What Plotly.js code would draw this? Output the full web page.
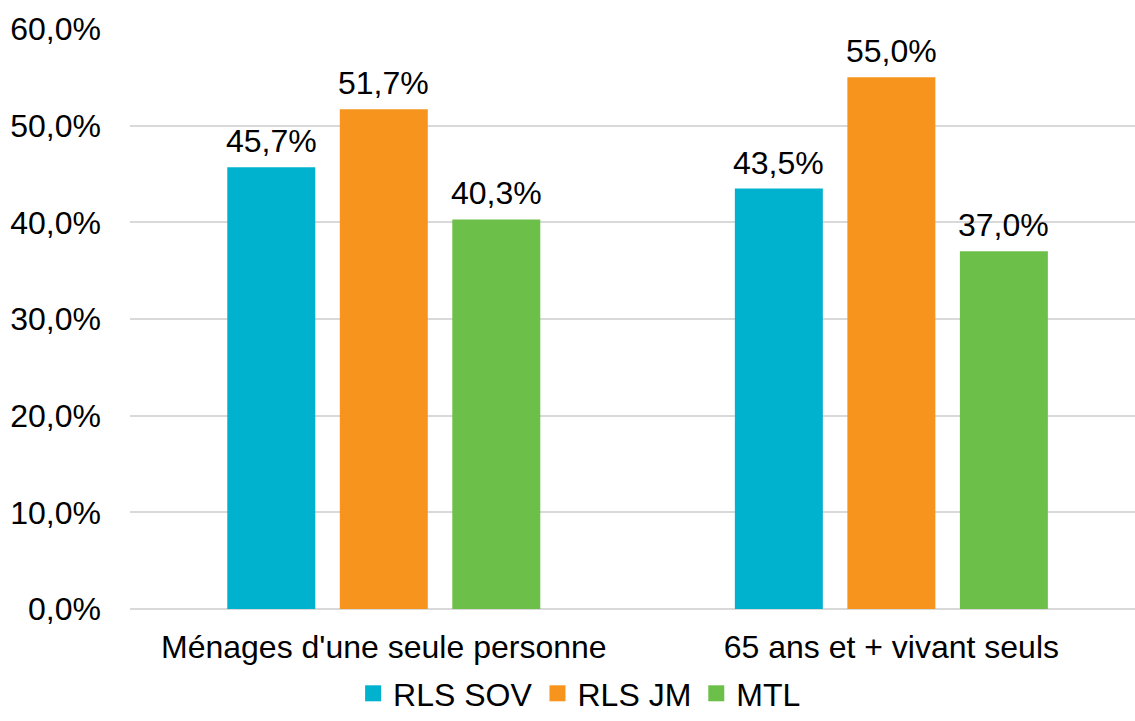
<!DOCTYPE html>
<html>
<head>
<meta charset="utf-8">
<script src="https://cdn.plot.ly/plotly-3.0.1.min.js"></script>
<style>
  html, body { margin: 0; padding: 0; background: #ffffff; }
  #chart { width: 1135px; height: 721px; }
</style>
</head>
<body>
<div id="chart"></div>
<script>
// Household categories and the share (%) for each territory
const categories = ["Ménages d'une seule personne", "65 ans et + vivant seuls"];
const seriesNames = ["RLS SOV", "RLS JM", "MTL"];
const rlsSov = [45.7, 43.5];
const rlsJm = [51.7, 55.0];
const mtl = [40.3, 37.0];
const seriesColors = ["#00B2CD", "#F7941D", "#6CC04A"];

const seriesValues = [rlsSov, rlsJm, mtl];
const FONT = "Liberation Sans, Arial, sans-serif";
const FS = 32;
const BARGAP = 0.335;
const slot = (1 - BARGAP) / seriesValues.length;

const fmt = v => v.toFixed(1).replace(".", ",") + "%";

// Bars (legend handled by square-marker entries below)
const traces = seriesValues.map((vals, j) => ({
  type: "bar",
  name: seriesNames[j],
  legendgroup: seriesNames[j],
  showlegend: false,
  x: categories,
  y: vals,
  marker: { color: seriesColors[j], line: { width: 0 } },
  hoverinfo: "skip"
}));

// Square legend keys, one per series
seriesNames.forEach((name, j) => {
  traces.push({
    type: "scatter",
    mode: "markers",
    name: name,
    legendgroup: name,
    x: [null],
    y: [null],
    marker: { symbol: "square", size: 17, color: seriesColors[j] },
    hoverinfo: "skip"
  });
});

// Value labels above each bar, placed on the bar's own slot in the group
const annotations = [];
seriesValues.forEach((vals, j) => {
  vals.forEach((v, i) => {
    annotations.push({
      x: i + (j - (seriesValues.length - 1) / 2) * slot,
      y: v,
      xref: "x",
      yref: "y",
      text: fmt(v),
      showarrow: false,
      yanchor: "bottom",
      yshift: 6,
      font: { family: FONT, size: FS, color: "#000000" }
    });
  });
});

const layout = {
  width: 1135,
  height: 721,
  margin: { l: 130, r: 0, t: 29, b: 112 },
  paper_bgcolor: "#ffffff",
  plot_bgcolor: "#ffffff",
  separators: ", ",
  font: { family: FONT, size: FS, color: "#000000" },
  barmode: "group",
  bargap: BARGAP,
  bargroupgap: 0.218,
  showlegend: true,
  legend: {
    orientation: "h",
    x: 0.222,
    xref: "paper",
    xanchor: "left",
    y: 0,
    yref: "container",
    yanchor: "bottom",
    itemsizing: "trace",
    font: { family: FONT, size: FS, color: "#000000" },
    itemclick: false,
    traceorder: "normal"
  },
  xaxis: {
    type: "category",
    range: [-0.5, 1.48],
    automargin: false,
    showgrid: false,
    showline: false,
    zeroline: false,
    ticks: "",
    ticklabelstandoff: 16,
    tickfont: { family: FONT, size: FS, color: "#000000" },
    fixedrange: true
  },
  yaxis: {
    range: [0, 60],
    dtick: 10,
    automargin: false,
    tickformat: ".1f",
    ticksuffix: "%",
    showgrid: true,
    gridcolor: "#d9d9d9",
    gridwidth: 2,
    zeroline: true,
    zerolinecolor: "#d9d9d9",
    zerolinewidth: 2,
    showline: false,
    ticks: "",
    ticklabelstandoff: 28,
    tickfont: { family: FONT, size: FS, color: "#000000" },
    fixedrange: true
  },
  annotations: annotations
};

Plotly.newPlot("chart", traces, layout, { displayModeBar: false, staticPlot: true });
</script>
</body>
</html>
